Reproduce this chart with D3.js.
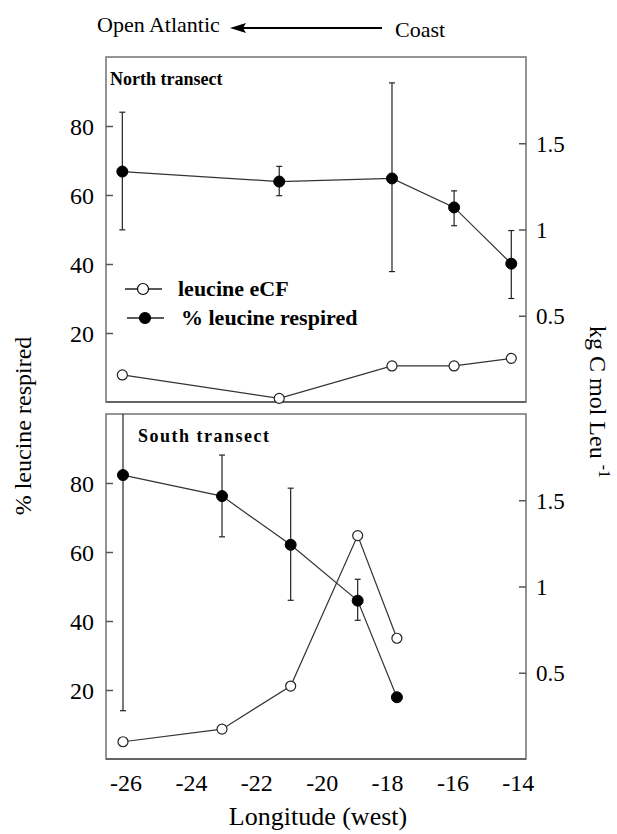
<!DOCTYPE html>
<html>
<head>
<meta charset="utf-8">
<script src="https://cdn.jsdelivr.net/npm/d3@7"></script>
<style>
  body { margin: 0; background: #fff; }
</style>
</head>
<body>
<div id="my_dataviz"></div>
<script>
// longitude ticks shared by both panels
var xTicks = [-26, -24, -22, -20, -18, -16, -14];
var leftTicks = [20, 40, 60, 80];
var rightTicks = [0.5, 1, 1.5];

// North transect
var northLon = [-26.1, -21.3, -17.85, -15.95, -14.2];
var northResp = [66.8, 63.9, 64.8, 56.4, 40.1];
var northRespHi = [84.0, 68.3, 92.5, 61.2, 49.7];
var northRespLo = [49.9, 59.8, 37.8, 51.1, 30.0];
var northECF = [0.157, 0.021, 0.209, 0.209, 0.253];

// South transect
var southLon = [-26.08, -23.05, -20.95, -18.9, -17.7];
var southResp = [82.3, 76.2, 62.1, 45.9, 17.9];
var southRespHi = [150, 88.1, 78.5, 52.1, null];
var southRespLo = [14.0, 64.4, 46.0, 40.2, null];
var southECF = [0.10, 0.173, 0.423, 1.295, 0.70];

var W = 617, H = 834;
var left = 106, right = 526;
var serif = "'Liberation Serif', 'Times New Roman', 'DejaVu Serif', serif";

var svg = d3.select("#my_dataviz")
    .append("svg")
    .attr("width", W)
    .attr("height", H);

var x = d3.scaleLinear()
    .domain([-26.6, -13.75])
    .range([left, right]);

// header: Open Atlantic <---- Coast
svg.append("text").attr("x", 97).attr("y", 32)
    .style("font-size", "22px").text("Open Atlantic");
svg.append("text").attr("x", 395).attr("y", 37)
    .style("font-size", "22px").text("Coast");
svg.append("line")
    .attr("x1", 240).attr("x2", 382).attr("y1", 28).attr("y2", 28)
    .attr("stroke", "#000").attr("stroke-width", 2);
svg.append("path")
    .attr("d", "M230,28 L246,23 L243,28 L246,33 Z")
    .attr("fill", "#000");

function drawPanel(top, bottom, title, lon, resp, hi, lo, ecf, id, spacing) {
    var yL = d3.scaleLinear().domain([0, 100]).range([bottom, top]);
    var yR = d3.scaleLinear().domain([0, 2]).range([bottom, top]);

    var g = svg.append("g");

    g.append("clipPath").attr("id", id)
        .append("rect")
        .attr("x", left).attr("y", top)
        .attr("width", right - left).attr("height", bottom - top);

    // frame
    g.append("rect")
        .attr("x", left).attr("y", top)
        .attr("width", right - left).attr("height", bottom - top)
        .attr("fill", "none").attr("stroke", "#7a7a7a").attr("stroke-width", 1.6);
    g.append("line")
        .attr("x1", left).attr("x2", right).attr("y1", bottom).attr("y2", bottom)
        .attr("stroke", "#555").attr("stroke-width", 1.6);

    // left axis, ticks inside
    var la = g.append("g")
        .attr("transform", "translate(" + left + ",0)")
        .call(d3.axisRight(yL).tickValues(leftTicks).tickSize(7).tickFormat(d3.format("d")));
    la.select(".domain").remove();
    la.selectAll("line").attr("stroke", "#555").attr("stroke-width", 1.5);
    la.selectAll("text")
        .attr("x", -12).attr("dy", "0.35em")
        .style("text-anchor", "end")
        .style("font-size", "24px");

    // right axis, ticks inside
    var ra = g.append("g")
        .attr("transform", "translate(" + right + ",0)")
        .call(d3.axisLeft(yR).tickValues(rightTicks).tickSize(7).tickFormat(d => d));
    ra.select(".domain").remove();
    ra.selectAll("line").attr("stroke", "#555").attr("stroke-width", 1.5);
    ra.selectAll("text")
        .attr("x", 10).attr("dy", "0.35em")
        .style("text-anchor", "start")
        .style("font-size", "23px");

    g.append("text")
        .attr("x", title == "North transect" ? 110 : 138)
        .attr("y", top + 28)
        .style("font-size", "18px").style("font-weight", "bold")
        .style("letter-spacing", spacing + "px")
        .text(title);

    var plot = g.append("g").attr("clip-path", "url(#" + id + ")");

    var ecfPts = lon.map((d, i) => [d, ecf[i]]);
    var respPts = lon.map((d, i) => [d, resp[i]]);

    plot.append("path")
        .datum(ecfPts)
        .attr("fill", "none").attr("stroke", "#333").attr("stroke-width", 1.2)
        .attr("d", d3.line().x(d => x(d[0])).y(d => yR(d[1])));
    plot.append("path")
        .datum(respPts)
        .attr("fill", "none").attr("stroke", "#333").attr("stroke-width", 1.2)
        .attr("d", d3.line().x(d => x(d[0])).y(d => yL(d[1])));

    // error bars
    var eb = lon.map((d, i) => ({lon: d, hi: hi[i], lo: lo[i]})).filter(d => d.hi != null);
    plot.selectAll(".eb").data(eb).join("line")
        .attr("x1", d => x(d.lon)).attr("x2", d => x(d.lon))
        .attr("y1", d => yL(d.hi)).attr("y2", d => yL(d.lo))
        .attr("stroke", "#222").attr("stroke-width", 1.2);
    plot.selectAll(".capHi").data(eb).join("line")
        .attr("x1", d => x(d.lon) - 3).attr("x2", d => x(d.lon) + 3)
        .attr("y1", d => yL(d.hi)).attr("y2", d => yL(d.hi))
        .attr("stroke", "#222").attr("stroke-width", 1.2);
    plot.selectAll(".capLo").data(eb).join("line")
        .attr("x1", d => x(d.lon) - 3).attr("x2", d => x(d.lon) + 3)
        .attr("y1", d => yL(d.lo)).attr("y2", d => yL(d.lo))
        .attr("stroke", "#222").attr("stroke-width", 1.2);

    g.selectAll(".open").data(ecfPts).join("circle")
        .attr("cx", d => x(d[0])).attr("cy", d => yR(d[1])).attr("r", 5)
        .attr("fill", "#fff").attr("stroke", "#222").attr("stroke-width", 1.2);
    g.selectAll(".filled").data(respPts).join("circle")
        .attr("cx", d => x(d[0])).attr("cy", d => yL(d[1])).attr("r", 5.5)
        .attr("fill", "#000").attr("stroke", "#000");

    return g;
}

drawPanel(57, 402, "North transect", northLon, northResp, northRespHi, northRespLo, northECF, "clipN", 0);
drawPanel(414, 759, "South transect", southLon, southResp, southRespHi, southRespLo, southECF, "clipS", 1.5);

// legend
var legend = [
    {label: "leucine eCF", fill: "#fff", y: 289, x0: 125, tx: 178},
    {label: "% leucine respired", fill: "#000", y: 318, x0: 127, tx: 181}
];
var lg = svg.selectAll(".lg").data(legend).join("g");
lg.append("line")
    .attr("x1", d => d.x0).attr("x2", d => d.x0 + 37)
    .attr("y1", d => d.y).attr("y2", d => d.y)
    .attr("stroke", "#222").attr("stroke-width", 1.5);
lg.append("circle")
    .attr("cx", d => d.x0 + 18).attr("cy", d => d.y).attr("r", 5.5)
    .attr("fill", d => d.fill).attr("stroke", "#000").attr("stroke-width", 1.2);
lg.append("text")
    .attr("x", d => d.tx).attr("y", d => d.y + 7)
    .style("font-size", "22px").style("font-weight", "bold")
    .text(d => d.label);

// bottom x axis labels
var xa = svg.append("g")
    .attr("transform", "translate(0,759)")
    .call(d3.axisBottom(x).tickValues(xTicks).tickSize(0).tickFormat(d => d < 0 ? "-" + Math.abs(d) : d));
xa.select(".domain").remove();
xa.selectAll("text")
    .attr("y", 32).attr("dy", 0)
    .style("font-size", "24px");

// axis titles
svg.append("text")
    .attr("transform", "translate(318,825)")
    .style("text-anchor", "middle").style("font-size", "26px")
    .text("Longitude (west)");
svg.append("text")
    .attr("transform", "translate(31,426) rotate(-90)")
    .style("text-anchor", "middle").style("font-size", "24px")
    .text("% leucine respired");
var rt = svg.append("text")
    .attr("transform", "translate(590,402) rotate(90)")
    .style("text-anchor", "middle").style("font-size", "24px");
rt.append("tspan").text("kg C mol Leu ");
rt.append("tspan").attr("dy", -9).style("font-size", "16px").text("-1");

// serif everywhere, axis groups included
svg.selectAll("text").style("font-family", serif).attr("fill", "#000");
</script>
</body>
</html>
